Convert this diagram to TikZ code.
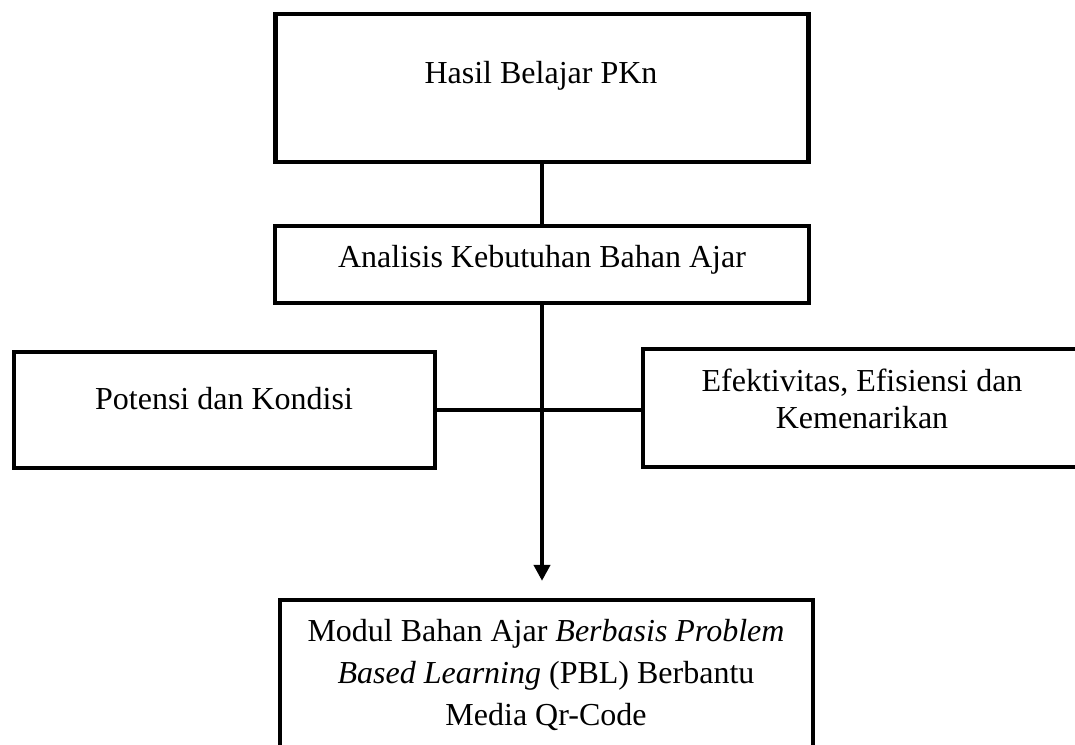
\documentclass[tikz,border=0pt]{standalone}
\usepackage{fontspec}
\setmainfont{Liberation Serif}
\usetikzlibrary{arrows.meta}
\tikzset{
  box/.style={draw=black, line width=4.3pt, rectangle, inner sep=0pt, minimum width=#1},
  txt/.style={anchor=base, inner sep=0pt, font=\fontsize{32}{38}\selectfont},
  link/.style={draw=black, line width=4.3pt},
}
\begin{document}
\begin{tikzpicture}[x=1pt, y=-1pt]
\useasboundingbox (0,0) rectangle (1075,744);
% boxes
\node[box=533pt, minimum height=148pt] (b1) at (542,88) {};
\node[box=534pt, minimum height=77pt] (b2) at (542,264.5) {};
\node[box=421pt, minimum height=116pt] (b3) at (224.5,410) {};
\node[box=438pt, minimum height=118pt] (b4) at (862,408) {};
\node[box=533pt, minimum height=170pt] (b5) at (546.5,685) {};
% texts
\node[txt] (t1) at (541,83) {Hasil Belajar PKn};
\node[txt] (t2) at (542,267) {Analisis Kebutuhan Bahan Ajar};
\node[txt] (t3) at (224,409) {Potensi dan Kondisi};
\node[txt] (t4a) at (862,391) {Efektivitas, Efisiensi dan};
\node[txt] (t4b) at (862,428) {Kemenarikan};
\node[txt] (t5a) at (546,641) {Modul Bahan Ajar \textit{Berbasis Problem}};
\node[txt] (t5b) at (546,683) {\textit{Based Learning} (PBL) Berbantu};
\node[txt] (t5c) at (546,725) {Media Qr-Code};
% connectors
\draw[link] (b1.south) -- (b2.north);
\draw[link] (b3.east) -- (b3.east -| b4.west);
\draw[link, -{Triangle[width=16pt,length=16pt]}, shorten >=17pt] (b2.south) -- (b2.south |- b5.north);
\end{tikzpicture}
\end{document}
